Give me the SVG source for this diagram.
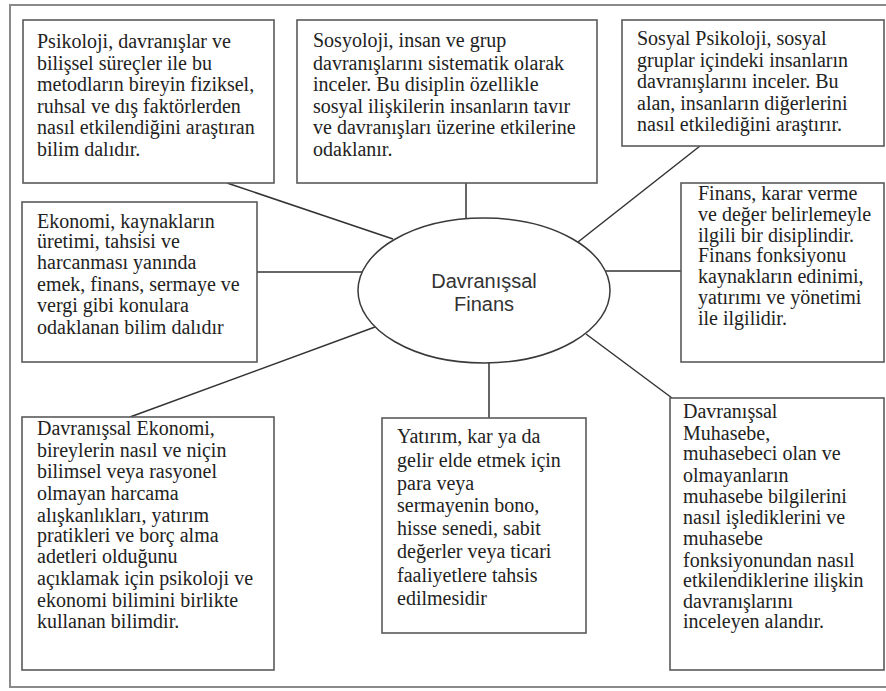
<svg xmlns="http://www.w3.org/2000/svg" width="886" height="691" viewBox="0 0 886 691">
  <style>
    .frame { fill: none; stroke: #8a8a8a; stroke-width: 2; }
    .box { fill: #ffffff; stroke: #5a5a5a; stroke-width: 1.6; }
    .hub { fill: #ffffff; stroke: #3a3a3a; stroke-width: 1.5; }
    .link { stroke: #333333; stroke-width: 1.5; fill: none; }
    .txt { font-family: "Liberation Serif", serif; font-size: 20px; fill: #222222; }
    .hubtxt { font-family: "Liberation Sans", sans-serif; font-size: 20px; fill: #333333; text-anchor: middle; }
  </style>
  <rect x="0" y="0" width="886" height="691" fill="#ffffff"/>
  <rect class="frame" x="10" y="5" width="890" height="682"/>

  <g id="connectors">
    <line class="link" x1="227" y1="183" x2="393" y2="239"/>
    <line class="link" x1="466" y1="183" x2="466" y2="219"/>
    <line class="link" x1="700" y1="146" x2="578" y2="242"/>
    <line class="link" x1="257" y1="272" x2="362" y2="272"/>
    <line class="link" x1="606" y1="271" x2="681" y2="271"/>
    <line class="link" x1="130" y1="417" x2="375" y2="327"/>
    <line class="link" x1="489" y1="363" x2="489" y2="418"/>
    <line class="link" x1="586" y1="334" x2="672" y2="398"/>
  </g>

  <g id="hub">
    <ellipse class="hub" cx="484" cy="290.5" rx="126" ry="72.5"/>
    <text class="hubtxt" x="484" y="288">Davranışsal</text>
    <text class="hubtxt" x="484" y="311">Finans</text>
  </g>

  <g id="psikoloji">
    <rect class="box" x="23" y="20" width="251" height="163"/>
    <text class="txt" x="37" y="48">Psikoloji, davranışlar ve</text>
    <text class="txt" x="37" y="70">bilişsel süreçler ile bu</text>
    <text class="txt" x="37" y="91">metodların bireyin fiziksel,</text>
    <text class="txt" x="37" y="113">ruhsal ve dış faktörlerden</text>
    <text class="txt" x="37" y="134">nasıl etkilendiğini araştıran</text>
    <text class="txt" x="37" y="156">bilim dalıdır.</text>
  </g>

  <g id="sosyoloji">
    <rect class="box" x="297" y="20" width="300" height="163"/>
    <text class="txt" x="313" y="47">Sosyoloji, insan ve grup</text>
    <text class="txt" x="313" y="70">davranışlarını sistematik olarak</text>
    <text class="txt" x="313" y="91">inceler. Bu disiplin özellikle</text>
    <text class="txt" x="313" y="113">sosyal ilişkilerin insanların tavır</text>
    <text class="txt" x="313" y="134">ve davranışları üzerine etkilerine</text>
    <text class="txt" x="313" y="156">odaklanır.</text>
  </g>

  <g id="sosyal-psikoloji">
    <rect class="box" x="622" y="20" width="262" height="126"/>
    <text class="txt" x="637" y="45">Sosyal Psikoloji, sosyal</text>
    <text class="txt" x="637" y="67">gruplar içindeki insanların</text>
    <text class="txt" x="637" y="88">davranışlarını inceler. Bu</text>
    <text class="txt" x="637" y="110">alan, insanların diğerlerini</text>
    <text class="txt" x="637" y="131">nasıl etkilediğini araştırır.</text>
  </g>

  <g id="ekonomi">
    <rect class="box" x="22" y="202" width="235" height="160"/>
    <text class="txt" x="37" y="228">Ekonomi, kaynakların</text>
    <text class="txt" x="37" y="248">üretimi, tahsisi ve</text>
    <text class="txt" x="37" y="269">harcanması yanında</text>
    <text class="txt" x="37" y="291">emek, finans, sermaye ve</text>
    <text class="txt" x="37" y="312">vergi gibi konulara</text>
    <text class="txt" x="37" y="334">odaklanan bilim dalıdır</text>
  </g>

  <g id="finans">
    <rect class="box" x="681" y="183" width="203" height="179"/>
    <text class="txt" x="698" y="200">Finans, karar verme</text>
    <text class="txt" x="698" y="221">ve değer belirlemeyle</text>
    <text class="txt" x="698" y="242">ilgili bir disiplindir.</text>
    <text class="txt" x="698" y="262">Finans fonksiyonu</text>
    <text class="txt" x="698" y="283">kaynakların edinimi,</text>
    <text class="txt" x="698" y="304">yatırımı ve yönetimi</text>
    <text class="txt" x="698" y="325">ile ilgilidir.</text>
  </g>

  <g id="davranissal-ekonomi">
    <rect class="box" x="22" y="417" width="252" height="253"/>
    <text class="txt" x="37" y="435">Davranışsal Ekonomi,</text>
    <text class="txt" x="37" y="457">bireylerin nasıl ve niçin</text>
    <text class="txt" x="37" y="478">bilimsel veya rasyonel</text>
    <text class="txt" x="37" y="500">olmayan harcama</text>
    <text class="txt" x="37" y="522">alışkanlıkları, yatırım</text>
    <text class="txt" x="37" y="542">pratikleri ve borç alma</text>
    <text class="txt" x="37" y="563">adetleri olduğunu</text>
    <text class="txt" x="37" y="585">açıklamak için psikoloji ve</text>
    <text class="txt" x="37" y="607">ekonomi bilimini birlikte</text>
    <text class="txt" x="37" y="628">kullanan bilimdir.</text>
  </g>

  <g id="yatirim">
    <rect class="box" x="382" y="418" width="204" height="215"/>
    <text class="txt" x="397" y="443">Yatırım, kar ya da</text>
    <text class="txt" x="397" y="467">gelir elde etmek için</text>
    <text class="txt" x="397" y="490">para veya</text>
    <text class="txt" x="397" y="512">sermayenin bono,</text>
    <text class="txt" x="397" y="535">hisse senedi, sabit</text>
    <text class="txt" x="397" y="558">değerler veya ticari</text>
    <text class="txt" x="397" y="582">faaliyetlere tahsis</text>
    <text class="txt" x="397" y="605">edilmesidir</text>
  </g>

  <g id="davranissal-muhasebe">
    <rect class="box" x="670" y="398" width="214" height="272"/>
    <text class="txt" x="683" y="418">Davranışsal</text>
    <text class="txt" x="683" y="440">Muhasebe,</text>
    <text class="txt" x="683" y="460">muhasebeci olan ve</text>
    <text class="txt" x="683" y="482">olmayanların</text>
    <text class="txt" x="683" y="503">muhasebe bilgilerini</text>
    <text class="txt" x="683" y="524">nasıl işlediklerini ve</text>
    <text class="txt" x="683" y="545">muhasebe</text>
    <text class="txt" x="683" y="567">fonksiyonundan nasıl</text>
    <text class="txt" x="683" y="587">etkilendiklerine ilişkin</text>
    <text class="txt" x="683" y="608">davranışlarını</text>
    <text class="txt" x="683" y="628">inceleyen alandır.</text>
  </g>
</svg>
